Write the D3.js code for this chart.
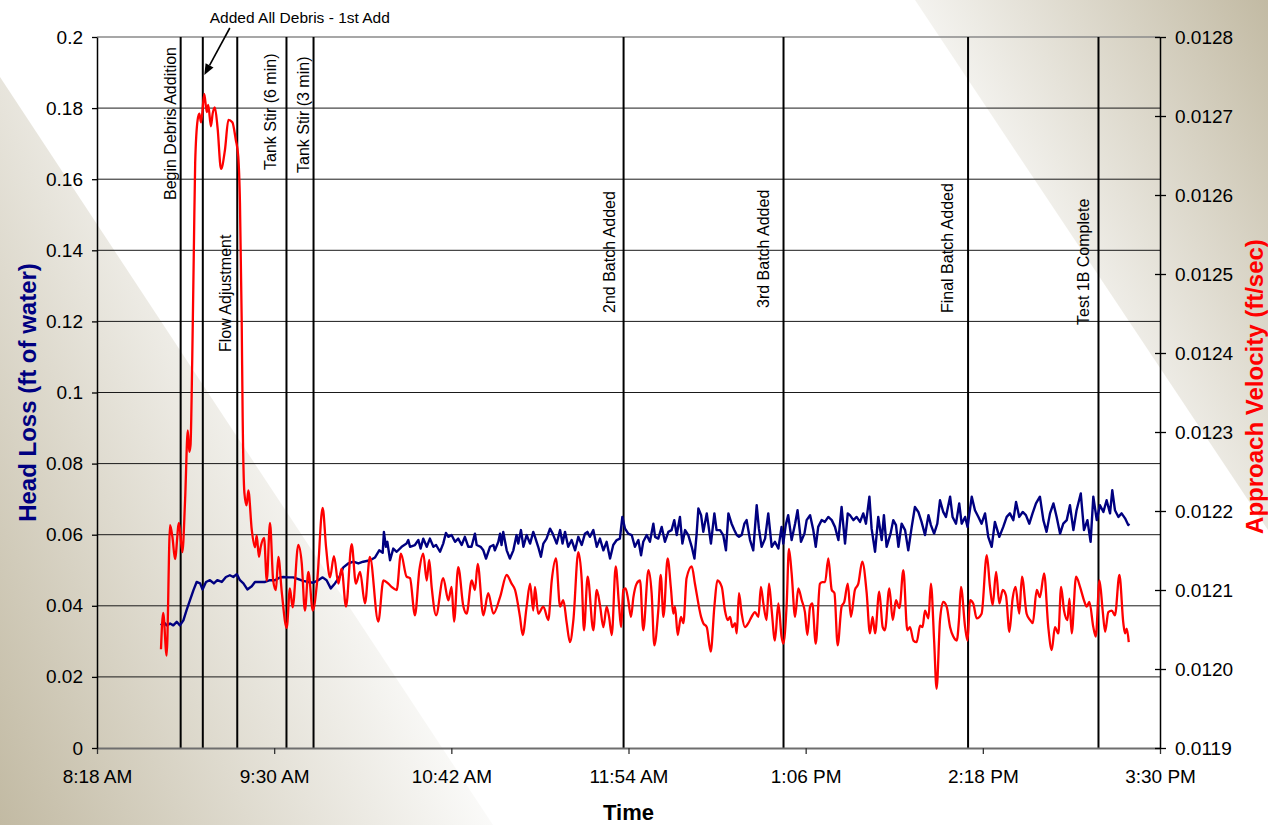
<!DOCTYPE html>
<html>
<head>
<meta charset="utf-8">
<script src="https://cdn.jsdelivr.net/npm/d3@7"></script>
<style>
  body { margin: 0; background: #fff; }
  svg { display: block; }
  text { font-family: "Liberation Sans", Arial, Helvetica, sans-serif; }
</style>
</head>
<body>
<svg id="chart" width="1268" height="825"></svg>
<script>
// ---- data -------------------------------------------------------------
// logger start time; samples are given as elapsed minutes from this time
const logStart = "08:44";

// approach velocity (ft/sec)
const velocityMin = [0.0,0.9,2.3,3.7,4.7,5.7,7.3,8.7,9.8,10.9,11.5,12.0,12.7,13.4,13.9,14.9,15.6,16.3,17.6,18.6,19.2,20.3,21.0,21.9,23.0,24.4,26.0,27.4,29.0,30.4,31.4,32.1,32.8,33.2,33.9,34.8,35.5,36.9,38.2,38.9,39.8,40.5,41.9,43.0,44.3,45.6,46.7,47.7,49.1,51.1,52.4,53.5,55.8,57.2,58.5,59.9,61.7,63.5,65.7,67.1,68.7,70.3,72.1,73.4,75.2,77.5,79.2,80.9,82.9,84.9,88.3,90.4,92.4,93.7,95.8,97.5,99.8,101.2,103.2,105.0,106.6,108.0,109.0,110.0,111.8,114.7,116.8,118.1,119.1,120.8,122.9,124.2,126.3,127.6,128.7,131.0,133.0,135.1,137.8,140.5,142.5,143.9,145.9,147.0,148.6,150.0,151.3,152.0,153.3,155.4,157.4,158.8,160.5,162.2,163.5,164.9,166.2,167.6,169.6,171.0,171.9,173.4,175.7,177.1,178.4,179.8,181.1,182.1,183.2,184.8,186.1,187.0,187.9,188.8,189.9,191.0,192.0,193.3,194.7,196.0,198.1,199.4,200.5,202.1,203.1,204.2,205.9,207.3,208.2,208.9,210.0,211.3,212.3,213.6,215.7,217.0,219.5,220.4,221.8,223.4,224.9,226.1,227.9,229.2,230.3,231.3,232.2,233.3,234.0,234.9,236.0,237.3,238.7,240.0,241.4,242.8,243.8,244.8,246.1,247.1,248.2,249.5,250.9,252.2,252.9,254.3,255.2,256.3,257.7,259.0,260.4,261.7,262.7,263.8,264.7,266.1,267.8,268.8,269.9,271.2,272.6,273.7,275.0,276.6,277.7,279.1,280.4,282.0,283.4,285.0,286.8,288.1,289.2,290.2,291.9,293.3,294.2,296.0,297.4,298.7,300.1,301.7,303.3,304.4,305.8,307.1,308.5,309.5,310.5,311.9,312.9,314.2,315.2,316.6,317.9,319.3,320.7,322.0,323.4,324.3,325.1,326.8,327.8,328.8,330.1,331.5,333.5,335.6,336.9,338.0,339.4,340.7,342.1,343.4,344.8,346.1,347.3,348.8,349.9,351.8,353.2,354.3,355.9,357.2,358.9,360.6,362.0,363.3,364.7,365.8,367.0,368.4,369.2,370.1,371.9,373.5,375.1,376.2,377.3,378.9,379.9,381.4,382.7,383.7,385.0,386.4,387.7,389.5,391.1,391.8,392.5,393.3];
const velocityFtS = [0.012025,0.012071,0.012017,0.012182,0.012166,0.012139,0.012185,0.012148,0.012214,0.012302,0.012275,0.012283,0.012391,0.012540,0.012641,0.012695,0.012703,0.012692,0.012728,0.012705,0.012714,0.012687,0.012703,0.012711,0.012685,0.012633,0.012657,0.012695,0.012692,0.012670,0.012649,0.012590,0.012442,0.012318,0.012223,0.012207,0.012226,0.012176,0.012154,0.012169,0.012142,0.012154,0.012166,0.012112,0.012185,0.012112,0.012100,0.012142,0.012097,0.012052,0.012102,0.012078,0.012157,0.012134,0.012074,0.012123,0.012074,0.012112,0.012204,0.012154,0.012116,0.012143,0.012108,0.012127,0.012079,0.012158,0.012108,0.012123,0.012083,0.012142,0.012060,0.012112,0.012108,0.012104,0.012100,0.012146,0.012117,0.012115,0.012068,0.012125,0.012146,0.012112,0.012138,0.012104,0.012068,0.012115,0.012087,0.012104,0.012060,0.012129,0.012079,0.012070,0.012112,0.012100,0.012133,0.012068,0.012096,0.012070,0.012091,0.012119,0.012108,0.012100,0.012066,0.012043,0.012079,0.012108,0.012074,0.012104,0.012070,0.012079,0.012062,0.012112,0.012140,0.012079,0.012087,0.012058,0.012034,0.012062,0.012148,0.012112,0.012049,0.012117,0.012049,0.012100,0.012081,0.012053,0.012079,0.012066,0.012043,0.012130,0.012083,0.012053,0.012100,0.012102,0.012087,0.012066,0.012091,0.012108,0.012112,0.012049,0.012125,0.012096,0.012030,0.012074,0.012119,0.012066,0.012140,0.012100,0.012070,0.012079,0.012043,0.012066,0.012058,0.012115,0.012130,0.012108,0.012066,0.012058,0.012053,0.012022,0.012079,0.012112,0.012104,0.012074,0.012062,0.012066,0.012053,0.012058,0.012045,0.012096,0.012070,0.012053,0.012058,0.012066,0.012072,0.012066,0.012104,0.012083,0.012062,0.012108,0.012074,0.012036,0.012083,0.012041,0.012032,0.012083,0.012152,0.012121,0.012066,0.012102,0.012087,0.012072,0.012043,0.012079,0.012083,0.012032,0.012108,0.012110,0.012110,0.012140,0.012100,0.012096,0.012030,0.012079,0.012085,0.012108,0.012066,0.012100,0.012108,0.012136,0.012096,0.012045,0.012066,0.012045,0.012098,0.012053,0.012049,0.012102,0.012062,0.012087,0.012077,0.012125,0.012049,0.012053,0.012036,0.012034,0.012055,0.012053,0.012074,0.012064,0.012108,0.012036,0.011975,0.012062,0.012085,0.012079,0.012053,0.012041,0.012036,0.012062,0.012104,0.012053,0.012036,0.012087,0.012083,0.012064,0.012070,0.012144,0.012104,0.012081,0.012123,0.012083,0.012100,0.012093,0.012047,0.012089,0.012104,0.012070,0.012117,0.012070,0.012062,0.012058,0.012100,0.012091,0.012121,0.012053,0.012024,0.012053,0.012045,0.012104,0.012074,0.012062,0.012089,0.012045,0.012117,0.012104,0.012087,0.012079,0.012085,0.012053,0.012041,0.012112,0.012074,0.012047,0.012072,0.012074,0.012068,0.012119,0.012058,0.012045,0.012051,0.012034];

// head loss (ft of water)
const headLossMin = [0.0,1.0,2.3,3.7,5.0,6.4,7.7,9.1,10.4,11.8,13.2,14.5,15.9,16.9,18.3,19.9,21.5,22.9,24.7,26.4,28.0,29.4,30.8,32.1,33.5,35.1,36.9,38.2,40.2,42.3,44.3,46.3,48.4,49.7,51.8,53.8,55.8,57.8,59.9,61.9,63.9,65.7,67.3,69.0,70.7,72.5,74.1,76.1,78.2,80.2,82.2,85.0,87.0,88.7,90.1,90.6,91.4,92.0,93.1,94.4,95.8,97.8,99.8,100.5,101.2,103.2,104.6,105.5,106.6,108.0,109.3,110.7,111.8,113.4,114.7,115.8,116.8,118.1,119.5,120.8,122.2,123.5,124.9,126.2,127.6,128.3,129.9,131.0,132.1,133.7,135.1,135.7,137.1,137.8,138.4,139.1,140.5,141.8,143.2,144.5,145.2,146.3,147.3,148.6,150.0,151.3,152.0,153.3,154.4,155.4,156.7,158.1,159.2,160.8,162.2,163.2,164.2,165.5,166.9,168.3,169.6,171.0,172.3,173.3,174.3,175.7,177.1,178.4,179.8,181.1,182.5,183.8,185.2,186.5,187.5,188.6,189.9,191.3,192.6,194.0,195.1,196.0,197.4,198.7,200.1,200.8,202.1,203.5,204.8,206.2,207.5,208.6,209.6,210.9,211.9,213.0,214.3,215.7,216.8,217.7,218.4,219.5,220.4,221.8,222.4,223.5,224.9,225.8,227.2,228.5,229.6,230.6,231.9,233.0,234.0,234.9,236.0,237.1,238.0,239.4,240.7,242.1,243.0,244.1,245.5,246.8,248.2,249.5,250.9,252.2,252.9,253.9,254.9,256.3,257.7,258.7,260.1,261.5,262.4,263.8,265.1,266.1,267.1,268.5,269.8,271.2,272.6,273.9,275.3,276.6,278.0,279.1,280.0,281.4,282.7,284.1,285.4,286.5,287.9,288.8,290.2,291.5,292.9,293.8,294.9,296.5,297.6,298.7,299.7,301.0,302.4,303.7,305.1,306.4,307.8,309.1,310.5,311.9,312.9,314.2,315.5,316.6,317.9,319.0,320.7,321.7,323.1,324.4,325.4,326.8,327.8,329.5,330.8,332.2,333.5,334.9,336.2,337.6,338.9,340.7,342.3,343.7,345.0,346.4,347.5,348.8,350.2,351.5,352.9,354.2,355.6,357.2,358.6,359.9,361.3,362.7,364.0,365.4,366.7,368.1,369.4,370.8,372.1,373.8,375.1,376.5,377.8,378.9,380.3,381.6,383.0,384.3,385.7,386.6,387.7,389.1,390.4,391.8,393.1,393.5];
const headLossFt = [0.0345,0.0355,0.0345,0.0350,0.0345,0.0355,0.0345,0.0359,0.0388,0.0416,0.0444,0.0467,0.0463,0.0446,0.0467,0.0472,0.0463,0.0472,0.0467,0.0481,0.0486,0.0481,0.0489,0.0472,0.0463,0.0446,0.0455,0.0467,0.0467,0.0467,0.0472,0.0472,0.0480,0.0481,0.0480,0.0480,0.0475,0.0470,0.0467,0.0465,0.0472,0.0480,0.0472,0.0449,0.0463,0.0481,0.0508,0.0519,0.0524,0.0519,0.0524,0.0528,0.0536,0.0556,0.0549,0.0608,0.0566,0.0580,0.0528,0.0561,0.0552,0.0566,0.0575,0.0585,0.0566,0.0571,0.0585,0.0561,0.0589,0.0566,0.0589,0.0566,0.0571,0.0552,0.0575,0.0605,0.0594,0.0599,0.0580,0.0589,0.0571,0.0594,0.0566,0.0566,0.0603,0.0571,0.0566,0.0556,0.0533,0.0566,0.0571,0.0556,0.0580,0.0603,0.0571,0.0608,0.0556,0.0533,0.0556,0.0599,0.0575,0.0613,0.0566,0.0599,0.0575,0.0608,0.0594,0.0566,0.0538,0.0575,0.0589,0.0617,0.0603,0.0575,0.0613,0.0575,0.0608,0.0566,0.0585,0.0556,0.0594,0.0571,0.0603,0.0608,0.0594,0.0613,0.0566,0.0589,0.0556,0.0580,0.0533,0.0571,0.0585,0.0589,0.0650,0.0617,0.0603,0.0599,0.0566,0.0585,0.0542,0.0580,0.0599,0.0580,0.0631,0.0594,0.0589,0.0622,0.0580,0.0608,0.0613,0.0641,0.0599,0.0650,0.0575,0.0613,0.0599,0.0566,0.0533,0.0603,0.0674,0.0655,0.0608,0.0660,0.0631,0.0575,0.0660,0.0613,0.0613,0.0599,0.0556,0.0660,0.0631,0.0613,0.0599,0.0594,0.0599,0.0631,0.0641,0.0585,0.0556,0.0683,0.0617,0.0566,0.0589,0.0660,0.0566,0.0580,0.0561,0.0622,0.0575,0.0627,0.0655,0.0585,0.0631,0.0669,0.0580,0.0603,0.0641,0.0655,0.0613,0.0566,0.0622,0.0641,0.0636,0.0650,0.0641,0.0622,0.0585,0.0678,0.0575,0.0660,0.0655,0.0641,0.0650,0.0636,0.0660,0.0631,0.0707,0.0617,0.0552,0.0650,0.0585,0.0655,0.0566,0.0603,0.0641,0.0627,0.0566,0.0631,0.0613,0.0556,0.0622,0.0678,0.0664,0.0636,0.0599,0.0655,0.0627,0.0603,0.0631,0.0697,0.0664,0.0650,0.0707,0.0650,0.0631,0.0688,0.0631,0.0650,0.0622,0.0707,0.0669,0.0650,0.0631,0.0660,0.0594,0.0566,0.0636,0.0594,0.0622,0.0650,0.0660,0.0641,0.0692,0.0650,0.0664,0.0655,0.0631,0.0660,0.0688,0.0707,0.0641,0.0608,0.0660,0.0688,0.0650,0.0603,0.0631,0.0641,0.0683,0.0613,0.0669,0.0716,0.0613,0.0641,0.0580,0.0707,0.0641,0.0683,0.0664,0.0697,0.0660,0.0725,0.0669,0.0650,0.0660,0.0646,0.0627,0.0631];

// test events marked on the chart
const eventTimes  = ["08:52","09:01","09:15","09:35","09:46","11:52","12:57","14:12","15:05"];
const eventLabels = ["Begin Debris Addition","Added All Debris - 1st Add","Flow Adjustment",
                     "Tank Stir (6 min)","Tank Stir (3 min)","2nd Batch Added","3rd Batch Added",
                     "Final Batch Added","Test 1B Complete"];

// axis ticks
const timeTicks     = ["08:18","09:30","10:42","11:54","13:06","14:18","15:30"];
const headLossTicks = [0,0.02,0.04,0.06,0.08,0.1,0.12,0.14,0.16,0.18,0.2];
const velocityTicks = [0.0119,0.0120,0.0121,0.0122,0.0123,0.0124,0.0125,0.0126,0.0127,0.0128];

// ---- layout -----------------------------------------------------------
const W = 1268, H = 825;
const plot = { left: 97, right: 1160, top: 37, bottom: 748 };
const FONT = '"Liberation Sans", Arial, Helvetica, sans-serif';

// label placement for each event: gap left of the line, and y of the text start
const labelPlacement = [
  { gap: 4.5,  y: 200 },
  null,
  { gap: 6.7,  y: 352 },
  { gap: 10.3, y: 170 },
  { gap: 4.4,  y: 173 },
  { gap: 8.6,  y: 313 },
  { gap: 14.3, y: 308 },
  { gap: 15.2, y: 313 },
  { gap: 9.5,  y: 325 }
];

const parseClock = d3.timeParse("%H:%M");
const t0 = parseClock(logStart);
const atMinute = m => new Date(t0.getTime() + m * 60000);

const velocity = velocityMin.map((m, i) => ({ t: atMinute(m), v: velocityFtS[i] }));
const headLoss = headLossMin.map((m, i) => ({ t: atMinute(m), v: headLossFt[i] }));

const x = d3.scaleTime()
  .domain([parseClock(timeTicks[0]), parseClock(timeTicks[timeTicks.length - 1])])
  .range([plot.left, plot.right]);
const yL = d3.scaleLinear().domain([0, 0.2]).range([plot.bottom, plot.top]);
const yR = d3.scaleLinear().domain([0.0119, 0.0128]).range([plot.bottom, plot.top]);

const svg = d3.select("#chart");
const defs = svg.append("defs");

// ---- backdrop ----------------------------------------------------------
function gradient(id, x1, y1, x2, y2) {
  const g = defs.append("linearGradient").attr("id", id)
    .attr("gradientUnits", "userSpaceOnUse")
    .attr("x1", x1).attr("y1", y1).attr("x2", x2).attr("y2", y2);
  g.append("stop").attr("offset", 0).attr("stop-color", "#c2baa3");
  g.append("stop").attr("offset", 1).attr("stop-color", "#fbfbfa");
}
gradient("bandLeft", 0, 825, 419, 641);
gradient("bandRight", 1268, 0, 954, 168);
svg.append("rect").attr("width", W).attr("height", H).attr("fill", "#fff");
svg.append("polygon").attr("points", "0,77 493,825 0,825").attr("fill", "url(#bandLeft)");
svg.append("polygon").attr("points", "915,0 1268,0 1268,530").attr("fill", "url(#bandRight)");

// ---- grid --------------------------------------------------------------
svg.append("g").selectAll("line")
  .data(headLossTicks.filter(d => d > 0 && d < 0.2))
  .join("line")
  .attr("x1", plot.left).attr("x2", plot.right)
  .attr("y1", d => yL(d)).attr("y2", d => yL(d))
  .attr("stroke", "#1a1a1a").attr("stroke-width", 1);

svg.append("line")
  .attr("x1", plot.left).attr("x2", plot.right)
  .attr("y1", plot.top).attr("y2", plot.top)
  .attr("stroke", "#8a8a8a").attr("stroke-width", 1.5);

// ---- event markers -----------------------------------------------------
const eventX = eventTimes.map(s => x(parseClock(s)));
svg.append("g").selectAll("line")
  .data(eventX)
  .join("line")
  .attr("x1", d => d).attr("x2", d => d)
  .attr("y1", plot.top).attr("y2", plot.bottom)
  .attr("stroke", "#000").attr("stroke-width", 2);

const labels = svg.append("g")
  .attr("font-family", FONT).attr("font-size", 16).attr("fill", "#000");
eventLabels.forEach((txt, i) => {
  const p = labelPlacement[i];
  if (!p) return;
  const lx = eventX[i] - p.gap;
  labels.append("text")
    .attr("transform", `translate(${lx},${p.y}) rotate(-90)`)
    .text(txt);
});

// call-out for the debris addition with an arrow
{
  const ex = eventX[1];
  labels.append("text")
    .attr("x", ex + 97).attr("y", 23)
    .attr("text-anchor", "middle")
    .attr("font-size", 15.5)
    .text(eventLabels[1]);
  const ax1 = ex + 27, ay1 = 28, ax2 = ex + 1.5, ay2 = 75;
  const ang = Math.atan2(ay2 - ay1, ax2 - ax1);
  const headLen = 11, headW = 4.5;
  const bx = ax2 - headLen * Math.cos(ang), by = ay2 - headLen * Math.sin(ang);
  svg.append("line")
    .attr("x1", ax1).attr("y1", ay1).attr("x2", bx).attr("y2", by)
    .attr("stroke", "#000").attr("stroke-width", 1.6);
  svg.append("polygon")
    .attr("points", [
      [ax2, ay2],
      [bx + headW * Math.sin(ang), by - headW * Math.cos(ang)],
      [bx - headW * Math.sin(ang), by + headW * Math.cos(ang)]
    ].map(p => p.join(",")).join(" "))
    .attr("fill", "#000");
}

// ---- series ------------------------------------------------------------
defs.append("clipPath").attr("id", "plotClip")
  .append("rect")
  .attr("x", plot.left).attr("y", plot.top)
  .attr("width", plot.right - plot.left).attr("height", plot.bottom - plot.top);

const series = svg.append("g").attr("clip-path", "url(#plotClip)");
series.append("path")
  .datum(headLoss)
  .attr("fill", "none").attr("stroke", "#000080").attr("stroke-width", 2.4)
  .attr("stroke-linejoin", "round")
  .attr("d", d3.line().x(d => x(d.t)).y(d => yL(d.v)));
series.append("path")
  .datum(velocity)
  .attr("fill", "none").attr("stroke", "#ff0000").attr("stroke-width", 2.3)
  .attr("stroke-linejoin", "round")
  .attr("d", d3.line().curve(d3.curveMonotoneX).x(d => x(d.t)).y(d => yR(d.v)));

// ---- axes --------------------------------------------------------------
const fmtTime = d3.timeFormat("%-I:%M %p");
const xAxis = svg.append("g")
  .attr("transform", `translate(0,${plot.bottom})`)
  .call(d3.axisBottom(x)
    .tickValues(timeTicks.map(parseClock))
    .tickFormat(fmtTime)
    .tickSize(6).tickSizeOuter(0));
xAxis.select(".domain").attr("stroke", "#6e6e6e").attr("stroke-width", 2);
xAxis.selectAll(".tick line").attr("stroke", "#333").attr("stroke-width", 1.3);
xAxis.selectAll("text").attr("y", 35).attr("dy", null);

const leftAxis = svg.append("g")
  .attr("transform", `translate(${plot.left},0)`)
  .call(d3.axisLeft(yL)
    .tickValues(headLossTicks)
    .tickFormat(d => String(+d.toFixed(2)))
    .tickSize(5).tickPadding(9).tickSizeOuter(0));
leftAxis.select(".domain").attr("stroke", "#000").attr("stroke-width", 1.5);
leftAxis.selectAll(".tick line").attr("stroke-width", 1.3);

const rightAxis = svg.append("g")
  .attr("transform", `translate(${plot.right},0)`)
  .call(d3.axisRight(yR)
    .tickValues(velocityTicks)
    .tickFormat(d3.format(".4f"))
    .tickSize(6).tickPadding(9).tickSizeOuter(0));
rightAxis.select(".domain").attr("stroke", "#000").attr("stroke-width", 1.5);
rightAxis.selectAll(".tick line").attr("x1", -5).attr("stroke-width", 1.3);

[xAxis, leftAxis, rightAxis].forEach(a =>
  a.selectAll("text")
    .attr("font-family", FONT).attr("font-size", 19).attr("fill", "#000"));

// ---- titles ------------------------------------------------------------
const midY = (plot.top + plot.bottom) / 2;
svg.append("text")
  .attr("transform", `translate(35.5,${midY}) rotate(-90)`)
  .attr("text-anchor", "middle")
  .attr("font-family", FONT).attr("font-size", 24).attr("font-weight", "bold")
  .attr("fill", "#000080")
  .text("Head Loss (ft of water)");

svg.append("text")
  .attr("transform", `translate(1262.5,${midY - 6}) rotate(-90)`)
  .attr("text-anchor", "middle")
  .attr("font-family", FONT).attr("font-size", 24).attr("font-weight", "bold")
  .attr("fill", "#ff0000")
  .text("Approach Velocity (ft/sec)");

svg.append("text")
  .attr("x", (plot.left + plot.right) / 2).attr("y", 820)
  .attr("text-anchor", "middle")
  .attr("font-family", FONT).attr("font-size", 22).attr("font-weight", "bold")
  .attr("fill", "#000")
  .text("Time");
</script>
</body>
</html>
